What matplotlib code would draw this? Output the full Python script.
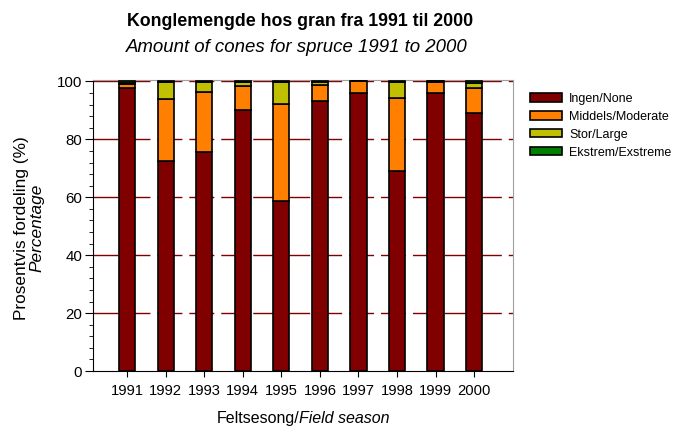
import numpy as np
import matplotlib
matplotlib.use("Agg")
import matplotlib.pyplot as plt
from matplotlib.ticker import MultipleLocator

plt.rcParams['font.family'] = ['Liberation Sans', 'DejaVu Sans']

years = ['1991', '1992', '1993', '1994', '1995', '1996', '1997', '1998', '1999', '2000']
none_pct = [97.8, 72.4, 75.6, 90.2, 58.9, 93.4, 96.1, 69.0, 96.1, 89.0]
moderate_pct = [1.2, 21.6, 20.6, 8.4, 33.2, 5.5, 3.9, 25.4, 3.7, 8.8]
large_pct = [0.6, 5.8, 3.6, 1.2, 7.7, 0.9, 0.0, 5.4, 0.2, 1.6]
extreme_pct = [0.4, 0.2, 0.2, 0.2, 0.2, 0.2, 0.0, 0.2, 0.0, 0.6]

labels = ['Ingen/None', 'Middels/Moderate', 'Stor/Large', 'Ekstrem/Exstreme']
colors = ['#800000', '#FF8000', '#C0C000', '#008000']

fig = plt.figure(figsize=(6.8, 4.28), dpi=100)
ax = fig.add_axes([0.137, 0.133, 0.617, 0.68])

x = np.arange(len(years))
bottom = np.zeros(len(years))
for vals, lab, col in zip([none_pct, moderate_pct, large_pct, extreme_pct], labels, colors):
    ax.bar(x, vals, width=0.42, bottom=bottom, color=col, edgecolor='black',
           linewidth=1.2, label=lab, zorder=3)
    bottom += np.array(vals)

# dashed reference lines
for yv in [20, 40, 60, 80, 100]:
    ax.axhline(yv, color='#800000', linewidth=1.0, dashes=(18, 5), zorder=1)

ax.set_xlim(-0.88, 10.0)
ax.set_ylim(0, 100.5)
ax.set_xticks(x)
ax.set_xticklabels(years, fontsize=10.6)
ax.yaxis.set_major_locator(MultipleLocator(20))
ax.yaxis.set_minor_locator(MultipleLocator(4))
ax.tick_params(axis='y', which='major', length=6, labelsize=10.8, pad=2)
ax.tick_params(axis='y', which='minor', length=3)
ax.tick_params(axis='x', length=4, pad=5)

ax.spines['top'].set_color('#A0A0A0')
ax.spines['right'].set_color('#A0A0A0')

fig.text(0.441, 0.950, 'Konglemengde hos gran fra 1991 til 2000', ha='center', va='center',
         fontsize=12.8, fontweight='bold')
fig.text(0.437, 0.889, 'Amount of cones for spruce 1991 to 2000', ha='center', va='center',
         fontsize=13.4, style='italic')

fig.text(0.031, 0.467, 'Prosentvis fordeling (%)', rotation=90, ha='center', va='center', fontsize=12.4)
fig.text(0.054, 0.467, 'Percentage', rotation=90, ha='center', va='center', fontsize=12.4, style='italic')

fig.text(0.44, 0.023, 'Feltsesong/', ha='right', va='center', fontsize=11.5)
fig.text(0.44, 0.023, 'Field season', ha='left', va='center', fontsize=11.5, style='italic')

leg = ax.legend(loc='upper left', bbox_to_anchor=(1.03, 0.973), frameon=False, fontsize=9,
                handlelength=2.55, handleheight=0.65, labelspacing=0.47, handletextpad=0.55,
                borderaxespad=0.0)

fig.savefig('out.png', dpi=100)
